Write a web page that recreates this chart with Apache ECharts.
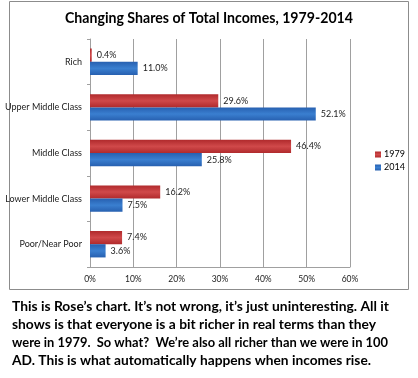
<!DOCTYPE html>
<html><head><meta charset="utf-8">
<script src="https://cdn.jsdelivr.net/npm/echarts@6/dist/echarts.min.js"></script>
<style>html,body{margin:0;padding:0;background:#fff}#c{width:418px;height:378px}</style>
</head><body><div id="c"></div>
<script>
const categories = ['Rich', 'Upper Middle Class', 'Middle Class', 'Lower Middle Class', 'Poor/Near Poor'];
const seriesNames = ['1979', '2014'];
const values1979 = [0.4, 29.6, 46.4, 16.2, 7.4];
const values2014 = [11.0, 52.1, 25.8, 7.5, 3.6];
const xTicks = [0, 10, 20, 30, 40, 50, 60];
const titleText = 'Changing Shares of Total Incomes, 1979-2014';
const captionLines = [
  'This is Rose\u2019s chart. It\u2019s not wrong, it\u2019s just uninteresting. All it',
  'shows is that everyone is a bit richer in real terms than they',
  'were in 1979.  So what?  We\u2019re also all richer than we were in 100',
  'AD. This is what automatically happens when incomes rise.'
];
const captionWidths = [377, 364, 376, 359];

const FONT = 'Lato, "Open Sans", sans-serif';
const chart = echarts.init(document.getElementById('c'), null, {renderer: 'canvas'});
function grad(c1, c2) {
  return new echarts.graphic.LinearGradient(0, 0, 0, 1, [
    {offset: 0, color: c1}, {offset: 0.5, color: c2}, {offset: 1, color: c1}
  ]);
}
const mctx = document.createElement('canvas').getContext('2d');
function fitText(text, font, w) {
  mctx.font = font;
  return w / mctx.measureText(text).width;
}
const capFont = 'bold 14px ' + FONT;
const titleFont = 'bold 16px ' + FONT;
const graphics = [{type: 'rect', shape: {x: 9.5, y: 1.5, width: 399, height: 288},
  style: {fill: 'none', stroke: '#8c8c8c', lineWidth: 1}, silent: true}];
captionLines.forEach((t, i) => {
  graphics.push({type: 'text', x: 12, y: 306 + i * 18, scaleX: fitText(t, capFont, captionWidths[i]),
    style: {text: t, font: capFont, fill: '#000', textVerticalAlign: 'middle', textAlign: 'left'}, silent: true});
});
graphics.push({type: 'text', x: 65, y: 18, scaleX: fitText(titleText, titleFont, 288),
  style: {text: titleText, font: titleFont, fill: '#000', textVerticalAlign: 'middle', textAlign: 'left'}, silent: true});

const lbl = {show: true, position: 'right', distance: 5, fontSize: 9, color: '#222', fontFamily: FONT,
  formatter: p => p.value.toFixed(1) + '%'};
chart.setOption({
  animation: false,
  graphic: graphics,
  legend: {
    orient: 'vertical', left: 370, top: 145, itemWidth: 6, itemHeight: 6, itemGap: 4,
    icon: 'rect', textStyle: {fontSize: 9, color: '#000', fontFamily: FONT, padding: [0,0,0,-2]},
    data: seriesNames
  },
  grid: {left: 90, right: 68, top: 39, bottom: 111, containLabel: false, outerBoundsMode: 'none'},
  xAxis: {
    type: 'value', min: xTicks[0], max: xTicks[xTicks.length - 1], interval: 10,
    axisLabel: {formatter: '{value}%', fontSize: 8.5, color: '#222', fontFamily: FONT, margin: 8},
    axisLine: {show: true, lineStyle: {color: '#a0a0a0'}},
    axisTick: {show: false},
    splitLine: {show: true, lineStyle: {color: '#a0a0a0', width: 1}}
  },
  yAxis: {
    type: 'category', inverse: true, data: categories,
    axisLabel: {fontSize: 9, color: '#222', fontFamily: FONT, margin: 8},
    axisLine: {lineStyle: {color: '#a0a0a0'}},
    axisTick: {show: true, length: 3, lineStyle: {color: '#a0a0a0'}}
  },
  series: [{
    name: seriesNames[0], type: 'bar', data: values1979, barGap: '0%', barCategoryGap: '42%',
    itemStyle: {color: grad('#b02a2c', '#d0494a')}, label: lbl
  }, {
    name: seriesNames[1], type: 'bar', data: values2014, barGap: '0%', barCategoryGap: '42%',
    itemStyle: {color: grad('#2760b0', '#3a7fd0')}, label: lbl
  }]
});
</script></body></html>
